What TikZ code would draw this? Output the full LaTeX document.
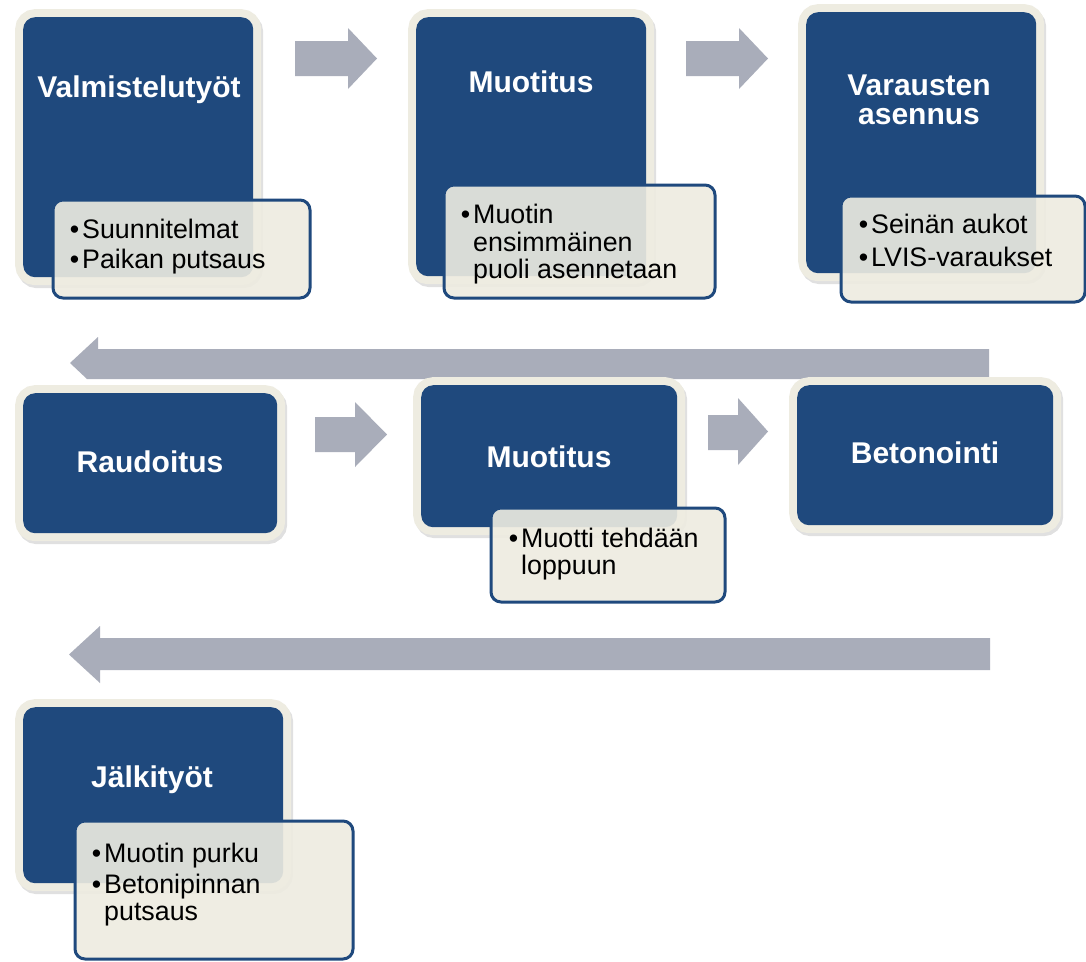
\documentclass[tikz,border=0pt]{standalone}
\usepackage{fontspec}
\setmainfont{Liberation Sans}
\usetikzlibrary{shadows}
\definecolor{boxblue}{RGB}{31,73,125}
\definecolor{cream}{RGB}{238,236,225}
\definecolor{arrowgray}{RGB}{169,173,186}
\tikzset{
 stepbox/.style={fill=boxblue, rounded corners=12pt, inner sep=0pt, anchor=north west,
   general shadow={shadow xshift=2pt, shadow yshift=-3pt, fill=black, draw=black, line width=16pt, opacity=.12},
   preaction={draw=cream, line width=16pt}},
 notebox/.style={fill=cream, fill opacity=.9, draw=boxblue, line width=3pt, rounded corners=10pt, inner sep=0pt, anchor=north west},
 title/.style={text=white, font=\fontsize{30}{31}\selectfont\bfseries, inner sep=0pt, anchor=base},
 note/.style={text=black, font=\fontsize{26.8}{28}\selectfont, inner sep=0pt, anchor=base west},
 blockarrow/.style={fill=arrowgray},
}
\newcommand{\bul}{\llap{•\hspace{3pt}}}
\begin{document}
\begin{tikzpicture}[x=1pt,y=-1pt]
\fill[white] (0,0) rectangle (1086,961);
\useasboundingbox (0,0) rectangle (1086,961);
% block arrows
\fill[blockarrow] (295,41) -- (348,41) -- (348,28) -- (377,58.5) -- (348,89) -- (348,76) -- (295,76) -- cycle;
\fill[blockarrow] (686,41) -- (739,41) -- (739,28) -- (768,58.5) -- (739,89) -- (739,76) -- (686,76) -- cycle;
\fill[blockarrow] (989,349) -- (98,349) -- (98,337) -- (70,363) -- (87,379) -- (989,379) -- cycle;
\fill[blockarrow] (315,417) -- (355,417) -- (355,402) -- (387,434.5) -- (355,467) -- (355,452) -- (315,452) -- cycle;
\fill[blockarrow] (708,415) -- (738,415) -- (738,398) -- (768,431.5) -- (738,465) -- (738,450) -- (708,450) -- cycle;
\fill[blockarrow] (990,638) -- (100,638) -- (100,626) -- (69,654.5) -- (100,683) -- (100,670) -- (990,670) -- cycle;
% step boxes
\node[stepbox, minimum width=230, minimum height=260] (b1) at (23,17) {};
\node[stepbox, minimum width=230, minimum height=259] (b2) at (416,17) {};
\node[stepbox, minimum width=230, minimum height=261] (b3) at (806,12) {};
\node[stepbox, minimum width=254, minimum height=140] (r1) at (23,393) {};
\node[stepbox, minimum width=256, minimum height=142] (r2) at (421,385) {};
\node[stepbox, minimum width=256, minimum height=140] (r3) at (797,385) {};
\node[stepbox, minimum width=260, minimum height=176] (j1) at (23,707) {};
% titles
\node[title] (b1t) at (139,97) {Valmistelutyöt};
\node[title] (b2t) at (531,92) {Muotitus};
\node[title] (b3t) at (919,95) {Varausten};
\node[title] (b3u) at (919,124) {asennus};
\node[title] (r1t) at (150,472) {Raudoitus};
\node[title] (r2t) at (549,467) {Muotitus};
\node[title] (r3t) at (925,463) {Betonointi};
\node[title] (j1t) at (152,787) {Jälkityöt};
% note boxes
\node[notebox, minimum width=257, minimum height=98] (n1) at (51.5,198.5) {};
\node[notebox, minimum width=271, minimum height=113] (n2) at (442.5,183.5) {};
\node[notebox, minimum width=244, minimum height=106] (n3) at (839.5,194.5) {};
\node[notebox, minimum width=234, minimum height=94] (n4) at (489.5,506.5) {};
\node[notebox, minimum width=278, minimum height=138] (n5) at (73.5,819.5) {};
% note texts
\node[note] (n1a) at (82,238) {\bul Suunnitelmat};
\node[note] (n1b) at (82,268) {\bul Paikan putsaus};
\node[note] (n2a) at (473,223) {\bul Muotin};
\node[note] (n2b) at (473,251) {ensimmäinen};
\node[note] (n2c) at (473,278) {puoli asennetaan};
\node[note] (n3a) at (871,233) {\bul Seinän aukot};
\node[note] (n3b) at (871,266) {\bul LVIS-varaukset};
\node[note] (n4a) at (521,547) {\bul Muotti tehdään};
\node[note] (n4b) at (521,574) {loppuun};
\node[note] (n5a) at (104,862) {\bul Muotin purku};
\node[note] (n5b) at (104,893) {\bul Betonipinnan};
\node[note] (n5c) at (104,920) {putsaus};
\end{tikzpicture}
\end{document}
